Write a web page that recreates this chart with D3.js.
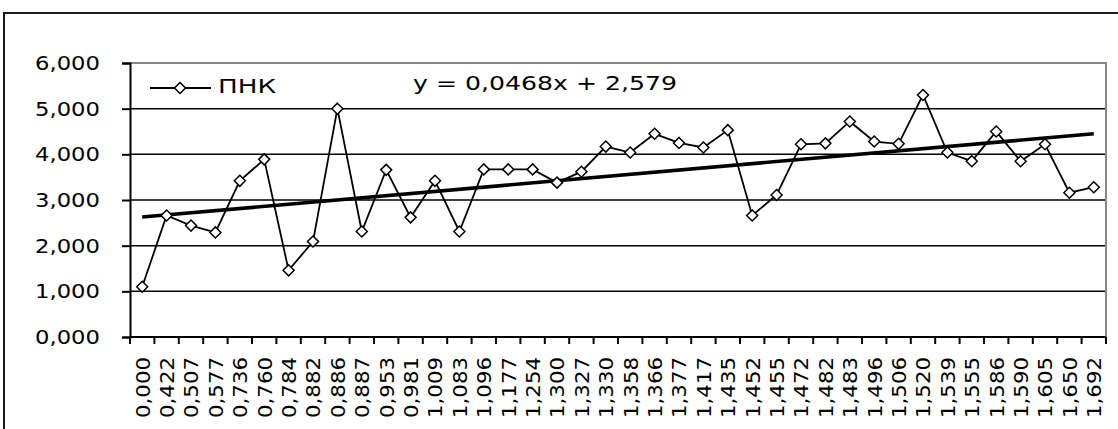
<!DOCTYPE html>
<html>
<head>
<meta charset="utf-8">
<script src="https://cdn.jsdelivr.net/npm/d3@7"></script>
<style>
  body { margin: 0; background: #fff; }
  text { font-family: "DejaVu Sans", Verdana, sans-serif; fill: #000; }
</style>
</head>
<body>
<svg id="chart"></svg>
<script>
// category labels (x axis)
const categories = ["0,000","0,422","0,507","0,577","0,736","0,760","0,784","0,882","0,886","0,887",
  "0,953","0,981","1,009","1,083","1,096","1,177","1,254","1,300","1,327","1,330",
  "1,358","1,366","1,377","1,417","1,435","1,452","1,455","1,472","1,482","1,483",
  "1,496","1,506","1,520","1,539","1,555","1,586","1,590","1,605","1,650","1,692"];
// series ПНК
const pnk = [1.10, 2.66, 2.44, 2.29, 3.42, 3.89, 1.46, 2.09, 5.00, 2.31,
  3.66, 2.62, 3.42, 2.31, 3.67, 3.67, 3.67, 3.38, 3.62, 4.17,
  4.04, 4.45, 4.25, 4.15, 4.53, 2.66, 3.11, 4.22, 4.24, 4.72,
  4.28, 4.23, 5.30, 4.04, 3.85, 4.50, 3.85, 4.22, 3.16, 3.28];
const yTicks = [0, 1, 2, 3, 4, 5, 6];
const trendSlope = 0.0468;
const trendIntercept = 2.579;
const seriesName = "ПНК";
const equationLabel = "y = 0,0468x + 2,579";

class LineChart {
  constructor(config) {
    this.config = {
      parent: config.parent,
      width: config.width || 1118,
      height: config.height || 429,
      margin: config.margin
    };
    this.init();
  }

  init() {
    let self = this;
    const m = self.config.margin;
    self.svg = d3.select(self.config.parent)
      .attr('width', self.config.width)
      .attr('height', self.config.height);

    // outer chart border
    self.svg.append('rect')
      .attr('x', 4).attr('y', 13)
      .attr('width', 1300).attr('height', 600)
      .attr('fill', 'none')
      .attr('stroke', '#1a1a1a')
      .attr('stroke-width', 2);

    self.inner_width = self.config.width - m.left - m.right;
    self.inner_height = self.config.height - m.top - m.bottom;
    self.chart = self.svg.append('g')
      .attr('transform', `translate(${m.left}, ${m.top})`);

    self.xscale = d3.scaleBand()
      .domain(d3.range(categories.length))
      .range([0, self.inner_width]);
    self.yscale = d3.scaleLinear()
      .domain([0, 6])
      .range([self.inner_height, 0]);

    self.fmt = d3.formatLocale({decimal: ",", thousands: " ", grouping: [3], currency: ["", ""]}).format(".3f");
  }

  render() {
    let self = this;
    const xs = self.xscale, ys = self.yscale, w = self.inner_width, h = self.inner_height;
    const cx = i => xs(i) + xs.bandwidth() / 2;

    // grid lines
    self.chart.append('g').selectAll('line')
      .data(yTicks.filter(t => t > 0 && t < 6))
      .join('line')
      .attr('x1', 0).attr('x2', w)
      .attr('y1', d => ys(d)).attr('y2', d => ys(d))
      .attr('stroke', '#000').attr('stroke-width', 1.5);

    // plot area border top / right (grey)
    self.chart.append('path')
      .attr('d', `M0,${ys(6)}H${w}V${h}`)
      .attr('fill', 'none').attr('stroke', '#888').attr('stroke-width', 2);

    // y axis
    const yaxis = d3.axisLeft(ys).tickValues(yTicks).tickSize(8).tickPadding(22).tickFormat(self.fmt);
    const yg = self.chart.append('g').call(yaxis);
    yg.select('.domain').attr('stroke', '#000').attr('stroke-width', 2);
    yg.selectAll('.tick line').attr('stroke', '#000').attr('stroke-width', 2);
    yg.selectAll('.tick text')
      .attr('font-size', 20)
      .attr('font-family', '"DejaVu Sans", Verdana, sans-serif')
      .attr('textLength', 65).attr('lengthAdjust', 'spacingAndGlyphs');

    // x axis line + ticks at band boundaries
    self.chart.append('line')
      .attr('x1', 0).attr('x2', w).attr('y1', h).attr('y2', h)
      .attr('stroke', '#000').attr('stroke-width', 2);
    self.chart.append('g').selectAll('line')
      .data(d3.range(categories.length + 1))
      .join('line')
      .attr('x1', i => i < categories.length ? xs(i) : w)
      .attr('x2', i => i < categories.length ? xs(i) : w)
      .attr('y1', h).attr('y2', h + 7)
      .attr('stroke', '#000').attr('stroke-width', 2);

    // x labels, rotated
    self.chart.append('g').selectAll('text')
      .data(categories)
      .join('text')
      .attr('transform', (d, i) => `translate(${cx(i)}, ${h + 20}) rotate(-90)`)
      .attr('text-anchor', 'end')
      .attr('dy', '0.37em')
      .attr('font-size', 20)
      .attr('textLength', 61).attr('lengthAdjust', 'spacingAndGlyphs')
      .text(d => d);

    // trend line
    const n = pnk.length;
    const trend = [1, n].map(k => ({i: k - 1, v: trendSlope * k + trendIntercept}));
    self.chart.append('path')
      .attr('d', d3.line().x(d => cx(d.i)).y(d => ys(d.v))(trend))
      .attr('fill', 'none').attr('stroke', '#000').attr('stroke-width', 3.5);

    // series line
    self.chart.append('path')
      .attr('d', d3.line().x((d, i) => cx(i)).y(d => ys(d))(pnk))
      .attr('fill', 'none').attr('stroke', '#000').attr('stroke-width', 1.8);

    const diamond = 'M0,-5.5L5.5,0L0,5.5L-5.5,0Z';
    self.chart.append('g').selectAll('path')
      .data(pnk)
      .join('path')
      .attr('transform', (d, i) => `translate(${cx(i)}, ${ys(d)})`)
      .attr('d', diamond)
      .attr('fill', '#fff').attr('stroke', '#000').attr('stroke-width', 1.5);

    // legend
    const lg = self.svg.append('g').attr('transform', 'translate(150, 88)');
    lg.append('line').attr('x1', 0).attr('x2', 61).attr('y1', 0).attr('y2', 0)
      .attr('stroke', '#000').attr('stroke-width', 1.8);
    lg.append('path').attr('transform', 'translate(30,0)').attr('d', diamond)
      .attr('fill', '#fff').attr('stroke', '#000').attr('stroke-width', 1.5);
    lg.append('text').attr('x', 68).attr('y', 4.5)
      .attr('font-size', 20).attr('textLength', 58).attr('lengthAdjust', 'spacingAndGlyphs')
      .text(seriesName);

    // trend equation
    self.svg.append('text')
      .attr('x', 413).attr('y', 90)
      .attr('font-size', 20).attr('textLength', 264).attr('lengthAdjust', 'spacingAndGlyphs')
      .text(equationLabel);
  }
}

const chart = new LineChart({
  parent: '#chart',
  width: 1118,
  height: 429,
  margin: {top: 63, right: 12, bottom: 92, left: 130}
});
chart.render();
</script>
</body>
</html>
